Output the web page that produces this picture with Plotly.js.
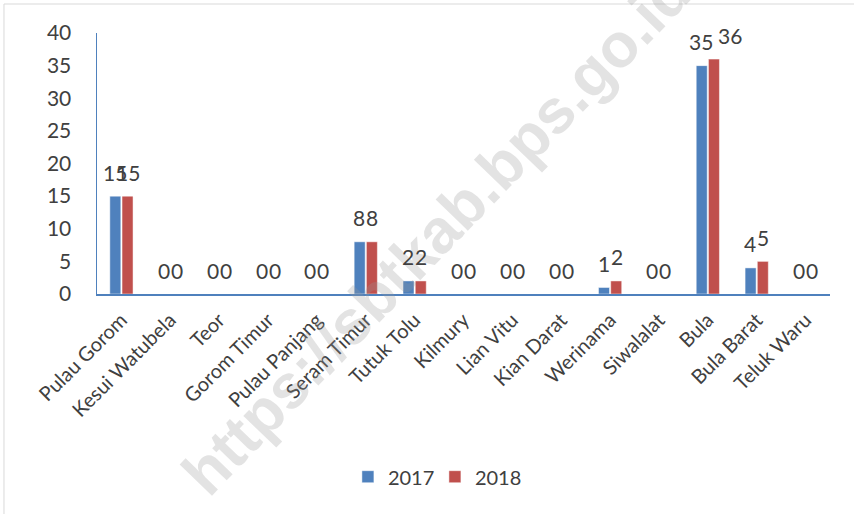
<!DOCTYPE html>
<html>
<head>
<meta charset="utf-8">
<script src="https://cdn.plot.ly/plotly-3.0.1.min.js"></script>
<style>
html,body{margin:0;padding:0;background:#fff;}
#chart{width:854px;height:514px;}
</style>
</head>
<body>
<div id="chart"></div>
<script>
const categories = ["Pulau Gorom","Kesui Watubela","Teor","Gorom Timur","Pulau Panjang","Seram Timur","Tutuk Tolu","Kilmury","Lian Vitu","Kian Darat","Werinama","Siwalalat","Bula","Bula Barat","Teluk Waru"];
const values2017 = [15,0,0,0,0,8,2,0,0,0,1,0,35,4,0];
const values2018 = [15,0,0,0,0,8,2,0,0,0,2,0,36,5,0];
const seriesNames = ["2017","2018"];
const yTicks = [0,5,10,15,20,25,30,35,40];
const watermarkText = "https://sbtkab.bps.go.id";

const blue = "#4F81BD", red = "#C0504D";
const txt = "#404040";
const fontFam = "Lato, 'Open Sans', sans-serif";
// label nudges (pixels) where the original moved a label to avoid collision
const labelNudge = {"Bula": [0, 16]};

const traces = [
  {type:"bar", name:seriesNames[0], x:categories, y:values2017, marker:{color:blue, line:{color:"rgba(255,255,255,0.6)", width:0.8}}, hoverinfo:"none"},
  {type:"bar", name:seriesNames[1], x:categories, y:values2018, marker:{color:red, line:{color:"rgba(255,255,255,0.6)", width:0.8}}, hoverinfo:"none"}
];

const annotations = [];
annotations.push({
  xref:"paper", yref:"paper", x:0.463, y:0.235,
  text: watermarkText, showarrow:false, textangle:-46,
  font:{family:"'Liberation Sans', Arial, sans-serif", size:62, color:"rgba(150,150,150,0.27)", weight:"bold"},
  xanchor:"center", yanchor:"middle"
});
[values2017, values2018].forEach((vals, s) => {
  vals.forEach((v, i) => {
    const n = labelNudge[categories[i]] ? labelNudge[categories[i]][s] : 0;
    annotations.push({
      x: categories[i], y: v, xref:"x", yref:"y",
      text: String(v), showarrow:false,
      xshift: (s === 0 ? -6.5 : 6.5) + n, yshift: 24,
      xanchor:"center", yanchor:"middle",
      font:{family:fontFam, size:21, color:txt}
    });
  });
});

const layout = {
  width:854, height:514,
  margin:{l:97, r:24, t:33, b:220, pad:0},
  paper_bgcolor:"#fff", plot_bgcolor:"#fff",
  barmode:"group", bargap:0.5, bargroupgap:0.1,
  showlegend:true,
  legend:{orientation:"h", x:0.461, xanchor:"center", y:-0.70, yanchor:"middle", entrywidth:42,
          font:{family:fontFam, size:20, color:txt}},
  xaxis:{type:"category", showgrid:false, zeroline:false, showline:true, linecolor:blue, linewidth:1.5,
         ticks:"", tickangle:-45, ticklabelstandoff:5, tickfont:{family:fontFam, size:20, color:txt}, fixedrange:true},
  yaxis:{range:[0,40], tickvals:yTicks, showgrid:false, zeroline:false, showline:true, linecolor:blue, linewidth:1.5,
         ticks:"", ticklabelstandoff:20, tickfont:{family:fontFam, size:21, color:txt}, fixedrange:true},
  annotations: annotations,
  shapes:[
    {type:"line", xref:"paper", yref:"paper", x0:-0.1269, x1:1.04, y0:1.1111, y1:1.1111, line:{color:"#d9d9d9", width:1}},
    {type:"line", xref:"paper", yref:"paper", x0:-0.1269, x1:-0.1269, y0:1.1111, y1:-0.85, line:{color:"#d9d9d9", width:1}}
  ]
};

Plotly.newPlot("chart", traces, layout, {displayModeBar:false, staticPlot:true});
</script>
</body>
</html>
